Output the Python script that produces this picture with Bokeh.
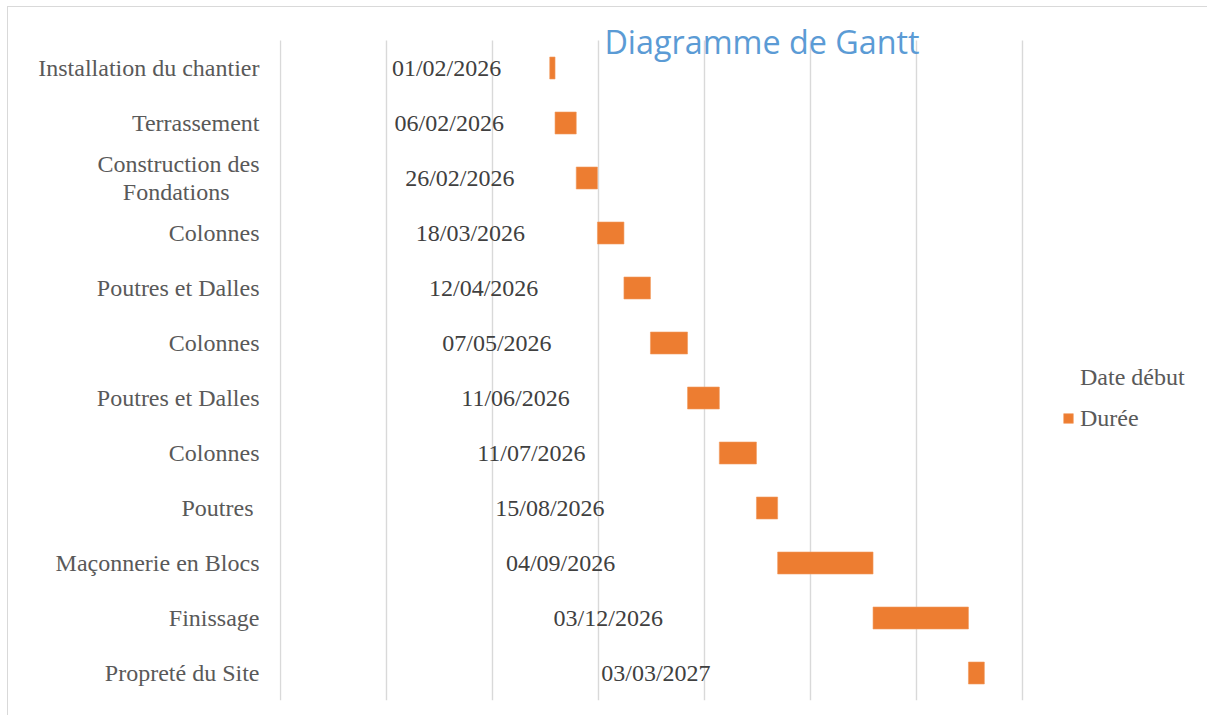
import pandas as pd
from bokeh.plotting import figure
from bokeh.models import (ColumnDataSource, Range1d, FixedTicker, Legend, LegendItem, Label)
from bokeh.core.properties import value
from bokeh.embed import file_html
from bokeh.resources import INLINE

# ---- data ----
tasks = ["Installation du chantier", "Terrassement", "Construction des\nFondations",
         "Colonnes", "Poutres et Dalles", "Colonnes", "Poutres et Dalles", "Colonnes",
         "Poutres ", "Maçonnerie en Blocs", "Finissage", "Propreté du Site"]
start_dates = ["01/02/2026", "06/02/2026", "26/02/2026", "18/03/2026", "12/04/2026",
               "07/05/2026", "11/06/2026", "11/07/2026", "15/08/2026", "04/09/2026",
               "03/12/2026", "03/03/2027"]
durations = [5, 20, 20, 25, 25, 35, 30, 35, 20, 90, 90, 15]
grid_ticks = [45800, 45900, 46000, 46100, 46200, 46300, 46400, 46500]

# ---- derived ----
EPOCH = pd.Timestamp("1899-12-30")
start_serial = [(pd.to_datetime(s, format="%d/%m/%Y") - EPOCH).days for s in start_dates]
BASE = 45859.4  # origin of the (invisible) "Date début" bars
n = len(tasks)
rows = [i + 0.5 for i in range(n)]

# centre the second line of two-line labels (axis labels are right-aligned)
NBSP = "\u00a0"
axis_labels = [t.replace("\nFondations", "\nFondations" + NBSP * 5) for t in tasks]

src = ColumnDataSource(dict(
    y=rows,
    start=start_serial,
    end=[s + d for s, d in zip(start_serial, durations)],
    base=[BASE] * n,
    lx=[(BASE + s) / 2 for s in start_serial],
    label=start_dates,
))
grid_src = ColumnDataSource(dict(x=grid_ticks, y0=[0] * len(grid_ticks), y1=[n] * len(grid_ticks)))

PX_PER_DAY = 1.06
X0 = grid_ticks[0] - 1 / PX_PER_DAY
X1 = X0 + (1200 - 271) / PX_PER_DAY

p = figure(width=1200, height=709, output_backend="svg", toolbar_location=None,
           x_range=Range1d(X0, X1), y_range=Range1d(n, -0.6),
           min_border_left=271, min_border_right=0, min_border_top=0, min_border_bottom=16)
p.styles = {"margin-left": "7px", "margin-top": "6px",
            "border-top": "1px solid #d9d9d9", "border-left": "1px solid #d9d9d9"}

p.outline_line_color = None
p.background_fill_color = "white"
p.border_fill_color = "white"

# grid (vertical lines limited to the plot rows)
p.xaxis.visible = False
p.xgrid.grid_line_color = None
p.ygrid.grid_line_color = None
p.segment(x0="x", x1="x", y0="y0", y1="y1", source=grid_src,
          line_color="#d9d9d9", line_width=1.4)

# y axis (task names)
p.yaxis.ticker = FixedTicker(ticks=rows)
p.yaxis.major_label_overrides = {r: t for r, t in zip(rows, axis_labels)}
p.yaxis.axis_line_color = None
p.yaxis.major_tick_line_color = None
p.yaxis.minor_tick_line_color = None
p.yaxis.major_tick_out = 0
p.yaxis.major_tick_in = 0
p.yaxis.major_label_standoff = 20
p.yaxis.major_label_text_font = "Liberation Serif"
p.yaxis.major_label_text_font_size = "24px"
p.yaxis.major_label_text_color = "#595959"
p.yaxis.major_label_text_line_height = 1.05

# invisible series (Date début)
r_inv = p.hbar(y="y", left="base", right="start", height=0.4, source=src,
               fill_alpha=0, line_alpha=0)
# visible series (Durée)
r_bar = p.hbar(y="y", left="start", right="end", height=0.4, source=src,
               fill_color="#ED7D31", line_color="#F19A5E", line_width=0.6)

# date labels
p.text(x="lx", y="y", text="label", source=src,
       text_font=value("Liberation Serif"), text_font_size="24px",
       text_align="center", text_baseline="middle", text_color="#404040")

# title
p.add_layout(Label(x=46254.2, y=0.018, text="Diagramme de Gantt",
                   text_font="Open Sans", text_font_size="32.3px",
                   text_color="#5B9BD5", text_align="center",
                   text_baseline="alphabetic"))

legend = Legend(items=[LegendItem(label="Date début", renderers=[r_inv]),
                       LegendItem(label="Durée", renderers=[r_bar])],
                location=(783, 268), orientation="vertical",
                background_fill_alpha=0, border_line_color=None,
                glyph_width=12, glyph_height=12, label_standoff=6,
                label_text_font="Liberation Serif", label_text_font_size="24px",
                label_text_color="#595959", padding=0, margin=0,
                spacing=13, label_height=28)
p.add_layout(legend)

open("out.html", "w").write(file_html(p, INLINE))
